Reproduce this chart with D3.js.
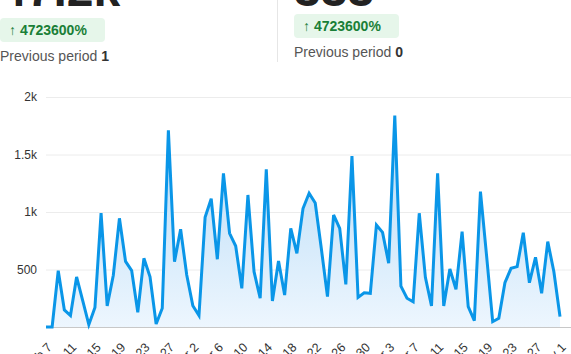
<!DOCTYPE html>
<html>
<head>
<meta charset="utf-8">
<script src="https://cdn.jsdelivr.net/npm/d3@7"></script>
<style>
  body { margin: 0; background: #fff; }
  svg { display: block; font-family: Helvetica, Arial, "Liberation Sans", sans-serif; }
</style>
</head>
<body>
<div id="chart"></div>
<script>
// headline numbers
var metrics = [
  { value: '47.2k', change: '4723600%', previous: '1' },
  { value: '333', change: '4723600%', previous: '0' }
];

// daily values, Feb 7 to May 1
var startDate = '2024-02-07';
var values = [
  0, 0, 490, 148, 100, 435, 230, 20, 170, 990,
  183, 450, 945, 570, 490, 128, 597, 437, 26, 163,
  1710, 568, 850, 452, 185, 100, 954, 1115, 589, 1336,
  815, 704, 336, 1148, 481, 250, 1371, 226, 574, 278,
  858, 641, 1030, 1163, 1078, 680, 264, 974, 858, 371,
  1487, 258, 298, 293, 887, 823, 554, 1838, 356, 250,
  220, 989, 432, 183, 1336, 183, 504, 328, 829, 177,
  55, 1177, 620, 46, 75, 385, 510, 525, 820, 385,
  606, 293, 742, 481, 90
];
var yTicks = [500, 1000, 1500, 2000];

var width = 571, height = 354;
var parse = d3.timeParse('%Y-%m-%d');
var start = parse(startDate);
var data = values.map(function (v, i) {
  return { date: d3.timeDay.offset(start, i), value: v };
});

var svg = d3.select('#chart').append('svg')
  .attr('width', width)
  .attr('height', height);

// header
var cols = [0, 294];
var badgeY = [18, 14];
var prevY = [61, 57];
metrics.forEach(function (m, i) {
  var g = svg.append('g').attr('transform', 'translate(' + cols[i] + ',0)');
  g.append('text')
    .attr('x', 0).attr('y', 6)
    .attr('font-size', 48).attr('font-weight', 'bold')
    .attr('fill', '#222')
    .text(m.value);
  g.append('rect')
    .attr('x', 0).attr('y', badgeY[i])
    .attr('width', 105).attr('height', 24)
    .attr('rx', 4)
    .attr('fill', '#e6f6ea');
  g.append('text')
    .attr('x', 9).attr('y', badgeY[i] + 17)
    .attr('font-size', 14).attr('font-weight', 'bold')
    .attr('fill', '#1a7f37')
    .text('\u2191 ' + m.change);
  var p = g.append('text')
    .attr('x', 0).attr('y', prevY[i])
    .attr('font-size', 14)
    .attr('fill', '#555');
  p.append('tspan').text('Previous period ');
  p.append('tspan').attr('font-weight', 'bold').attr('fill', '#333').text(m.previous);
});
svg.append('line')
  .attr('x1', 277.5).attr('x2', 277.5)
  .attr('y1', 0).attr('y2', 62)
  .attr('stroke', '#e6e6e6');

// chart
var plotLeft = 46, plotRight = 571, plotTop = 97, plotBottom = 327;
var x = d3.scaleTime()
  .domain([data[0].date, data[data.length - 1].date])
  .range([plotLeft, 560]);
var y = d3.scaleLinear().domain([0, 2000]).range([plotBottom, plotTop]);

var yAxis = svg.append('g')
  .attr('transform', 'translate(' + plotLeft + ',0)')
  .call(d3.axisLeft(y)
    .tickValues(yTicks)
    .tickSize(-(plotRight - plotLeft))
    .tickPadding(9)
    .tickFormat(function (d) { return d >= 1000 ? d / 1000 + 'k' : d; }));
yAxis.select('.domain').remove();
yAxis.selectAll('line').attr('stroke', '#ececec');
yAxis.selectAll('text').attr('font-size', 12).attr('fill', '#333')
  .attr('font-family', 'Helvetica, Arial, "Liberation Sans", sans-serif');

var defs = svg.append('defs');
var grad = defs.append('linearGradient')
  .attr('id', 'fill')
  .attr('gradientUnits', 'userSpaceOnUse')
  .attr('x1', 0).attr('x2', 0)
  .attr('y1', y(d3.max(values))).attr('y2', plotBottom);
grad.append('stop').attr('offset', '0%').attr('stop-color', '#b3d9f6');
grad.append('stop').attr('offset', '100%').attr('stop-color', '#edf6fe');

var area = d3.area()
  .x(function (d) { return x(d.date); })
  .y0(y(0))
  .y1(function (d) { return y(d.value); });
var line = d3.line()
  .x(function (d) { return x(d.date); })
  .y(function (d) { return y(d.value); });

svg.append('path').datum(data)
  .attr('d', area)
  .attr('fill', 'url(#fill)');

svg.append('line')
  .attr('x1', plotLeft).attr('x2', plotRight)
  .attr('y1', plotBottom + 0.5).attr('y2', plotBottom + 0.5)
  .attr('stroke', '#c8c8c8');

svg.append('path').datum(data)
  .attr('d', line)
  .attr('fill', 'none')
  .attr('stroke', '#0a96e8')
  .attr('stroke-width', 3)
  .attr('stroke-linejoin', 'miter');

// x labels every 4 days
var xTicks = data.filter(function (d, i) { return i % 4 === 0; }).map(function (d) { return d.date; });
var xAxis = svg.append('g')
  .attr('transform', 'translate(0,' + plotBottom + ')')
  .call(d3.axisBottom(x).tickValues(xTicks).tickSize(0).tickFormat(d3.timeFormat('%b %-d')));
xAxis.select('.domain').remove();
xAxis.selectAll('text')
  .attr('font-size', 12.5).attr('fill', '#333')
  .attr('font-family', 'Helvetica, Arial, "Liberation Sans", sans-serif')
  .attr('text-anchor', 'end')
  .attr('dy', 0)
  .attr('transform', 'translate(4,19) rotate(-45)');
</script>
</body>
</html>
